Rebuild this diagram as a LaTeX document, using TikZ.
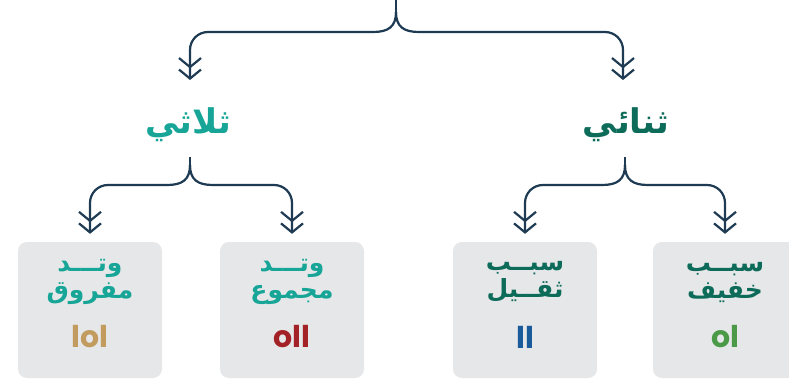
\documentclass[tikz,border=0pt]{standalone}
\usepackage{fontspec}
\usetikzlibrary{arrows.meta,calc}
\TeXXeTstate=1
\newfontfamily\arabicfont[Script=Arabic]{DejaVu Sans}
\newfontfamily\latinf{Poppins}
\definecolor{conn}{HTML}{1E3B53}
\definecolor{teal}{HTML}{16A596}
\definecolor{dgreen}{HTML}{0D6B5A}
\definecolor{tan}{HTML}{C29B5E}
\definecolor{dred}{HTML}{A32227}
\definecolor{dblue}{HTML}{1A5B9C}
\definecolor{lgreen}{HTML}{4B9A47}
\definecolor{boxgray}{HTML}{E6E7E9}
\tikzset{
  dchev/.tip={Straight Barb[length=9pt,width=22pt,line width=2.2pt]Straight Barb[length=9pt,width=22pt,line width=2.2pt]},
  connector/.style={draw=conn,line width=2.2pt,-dchev},
  stemline/.style={draw=conn,line width=2.2pt},
  cardbox/.style={fill=boxgray,rounded corners=9pt,minimum width=144pt,minimum height=136pt,inner sep=0pt},
  headlbl/.style={font=\arabicfont\bfseries\fontsize{34}{36}\selectfont},
  cardlbl/.style={font=\arabicfont\bfseries\fontsize{25}{27}\selectfont,align=center},
  latlbl/.style={font=\latinf\bfseries\fontsize{30}{30}\selectfont}
}
% #1 junction point, #2 end x reference, #3 target, #4 sign
\newcommand{\branchpath}[4]{%
  \draw[connector] (#1) .. controls ($(#1)+(0,15)$) and ($(#1)+(#4*8,20)$) .. ($(#1)+(#4*23,20)$)
    -- ($(#2|-#1)+(-#4*18,20)$) .. controls ($(#2|-#1)+(-#4*8,20)$) and ($(#2|-#1)+(0,28)$) .. ($(#2|-#1)+(0,38)$)
    -- (#3);}
\begin{document}
\begin{tikzpicture}[x=1pt,y=-1pt]
\useasboundingbox (0,0) rectangle (789,382);
% boxes
\node[cardbox] (b1) at (90,310) {};
\node[cardbox] (b2) at (292,310) {};
\node[cardbox] (b3) at (525,310) {};
\node[cardbox] (b4) at (725,310) {};
% headings
\node[headlbl,text=teal] (tri) at (188,125) {\beginR ثلاثي\endR};
\node[headlbl,text=dgreen] (bi) at (626,125) {\beginR ثنائي\endR};
% card texts
\node[cardlbl,text=teal] (t1) at (90,282) {\beginR وتـــد\endR\\\beginR مفروق\endR};
\node[cardlbl,text=teal] (t2) at (292,282) {\beginR وتـــد\endR\\\beginR مجموع\endR};
\node[cardlbl,text=dgreen] (t3) at (525,282) {\beginR سبــب\endR\\\beginR ثقــيل\endR};
\node[cardlbl,text=dgreen] (t4) at (725,282) {\beginR سبــب\endR\\\beginR خفيف\endR};
\node[latlbl,text=tan] (n1) at (90,337) {lol};
\node[latlbl,text=dred] (n2) at (292,337) {oll};
\node[latlbl,text=dblue] (n3) at (525,337) {ll};
\node[latlbl,text=lgreen] (n4) at (725,337) {ol};
% coordinates
\coordinate (root) at (396,0);
\coordinate (rootj) at (396,12);
\coordinate (aL) at (190,80);
\coordinate (aR) at (623,80);
\coordinate (triS) at (190,157);
\coordinate (triJ) at (190,165);
\coordinate (biS) at (625,157);
\coordinate (biJ) at (625,165);
\coordinate (e1) at ($(b1.north)+(0,-8)$);
\coordinate (e2) at ($(b2.north)+(0,-8)$);
\coordinate (e3) at ($(b3.north)+(0,-8)$);
\coordinate (e4) at ($(b4.north)+(0,-8)$);
% top bracket
\draw[stemline] (root) -- (rootj);
\branchpath{rootj}{aL}{aL}{-1}
\branchpath{rootj}{aR}{aR}{1}
% second level
\draw[stemline] (triS) -- (triJ);
\branchpath{triJ}{e1}{e1}{-1}
\branchpath{triJ}{e2}{e2}{1}
\draw[stemline] (biS) -- (biJ);
\branchpath{biJ}{e3}{e3}{-1}
\branchpath{biJ}{e4}{e4}{1}
\end{tikzpicture}
\end{document}
